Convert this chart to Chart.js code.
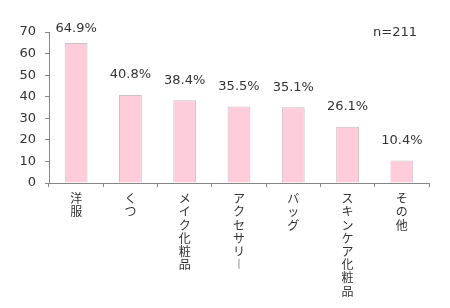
<!DOCTYPE html>
<html>
<head>
<meta charset="utf-8">
<script src="https://cdn.jsdelivr.net/npm/chart.js@4"></script>
<style>
    html, body { margin: 0; padding: 0; background: #fff; }
    #wrap { width: 450px; height: 308px; }
</style>
</head>
<body>
<div id="wrap"><canvas id="chart" width="450" height="308"></canvas></div>
<script>
// Chart data
const categories = ['洋服', 'くつ', 'メイク化粧品', 'アクセサリー', 'バッグ', 'スキンケア化粧品', 'その他'];
const percentages = [64.9, 40.8, 38.4, 35.5, 35.1, 26.1, 10.4];
const yTicks = [0, 10, 20, 30, 40, 50, 60, 70];
const sampleNote = 'n=211';

const textColor = '#333333';
const axisColor = '#868686';
const numFont = { family: '"DejaVu Sans", Verdana, sans-serif', size: 13 };
const jpFont = { family: '"Noto Sans CJK JP", sans-serif', size: 12, lineHeight: 1.1 };

/**
 * Turns a label into a stack of characters so it reads top to bottom.
 * @param {String} text - The category label
 * @returns {Array} One entry per line
 */
function verticalLabel(text) {
    return Array.from(text).map(ch => (ch === 'ー' ? '︱' : ch));
}

/** Draws the percentage above each bar and the sample size note. */
const valueLabels = {
    id: 'valueLabels',
    afterDatasetsDraw(chart) {
        const ctx = chart.ctx;
        const area = chart.chartArea;
        const meta = chart.getDatasetMeta(0);
        ctx.save();
        ctx.font = numFont.size + 'px ' + numFont.family;
        ctx.fillStyle = textColor;
        ctx.textAlign = 'center';
        ctx.textBaseline = 'middle';
        meta.data.forEach((bar, i) => {
            let y = Math.max(bar.y - 20, area.top - 3);
            ctx.fillText(percentages[i].toFixed(1) + '%', bar.x, y);
        });
        ctx.fillText(sampleNote, 395, 33);
        ctx.restore();
    }
};

const chart = new Chart(document.getElementById('chart'), {
    type: 'bar',
    data: {
        labels: categories.map(verticalLabel),
        datasets: [{
            data: percentages,
            backgroundColor: '#FFCCDB',
            borderColor: '#C9C1C4',
            borderWidth: 1,
            categoryPercentage: 1.0,
            barPercentage: 0.42
        }]
    },
    options: {
        responsive: false,
        animation: false,
        layout: {
            padding: { top: 32, right: 21, left: 0, bottom: 0 }
        },
        plugins: {
            legend: { display: false },
            tooltip: { enabled: false }
        },
        scales: {
            x: {
                grid: {
                    drawOnChartArea: false,
                    drawTicks: true,
                    tickLength: 4,
                    color: axisColor
                },
                border: { color: axisColor },
                ticks: {
                    color: textColor,
                    font: jpFont,
                    maxRotation: 0,
                    minRotation: 0,
                    autoSkip: false,
                    padding: 5
                },
                afterFit(scale) { scale.height = 125; }
            },
            y: {
                min: 0,
                max: 70,
                afterBuildTicks(scale) {
                    scale.ticks = yTicks.map(v => ({ value: v }));
                },
                grid: {
                    drawOnChartArea: false,
                    drawTicks: true,
                    tickLength: 4,
                    color: axisColor
                },
                border: { color: axisColor },
                ticks: {
                    color: textColor,
                    font: numFont,
                    padding: 9
                },
                afterFit(scale) { scale.width = 49; }
            }
        }
    },
    plugins: [valueLabels]
});
</script>
</body>
</html>
